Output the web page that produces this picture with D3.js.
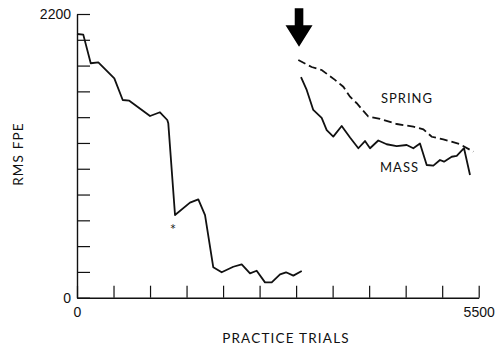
<!DOCTYPE html>
<html>
<head>
<meta charset="utf-8">
<script src="https://cdn.jsdelivr.net/npm/d3@7/dist/d3.min.js"></script>
<style>
  body { margin: 0; background: #fff; }
  svg { display: block; }
</style>
</head>
<body>
<div class="container"></div>
<script>
const WIDTH = 496
const HEIGHT = 349

// axis ticks and labels
const trialTicks = [0, 500, 1000, 1500, 2000, 2500, 3000, 3500, 4000, 4500, 5000, 5500]
const rmsTicks = [0, 200, 400, 600, 800, 1000, 1200, 1400, 1600, 1800, 2000, 2200]
const trialLabels = ['0', '5500']
const rmsLabels = ['0', '2200']

// first session (before the switch)
const baseTrials = [0, 86, 188, 292, 511, 626, 716, 1000, 1136, 1236, 1250, 1342, 1547, 1661, 1753, 1866, 1981, 2140, 2255, 2369, 2460, 2574, 2666, 2780, 2862, 2962, 3077]
const baseRms = [2045, 2040, 1818, 1825, 1701, 1533, 1528, 1409, 1438, 1378, 1352, 641, 737, 763, 641, 236, 197, 240, 259, 189, 209, 119, 119, 181, 197, 171, 207]

// spring (dashed)
const springTrials = [3030, 3213, 3350, 3532, 3646, 3738, 3830, 3988, 4149, 4377, 4605, 4742, 4857, 5015, 5244, 5426]
const springRms = [1843, 1789, 1766, 1689, 1636, 1559, 1508, 1405, 1386, 1347, 1326, 1306, 1248, 1228, 1190, 1132]

// mass (solid)
const massTrials = [3067, 3145, 3235, 3350, 3419, 3509, 3624, 3738, 3852, 3943, 4012, 4125, 4240, 4377, 4514, 4605, 4696, 4788, 4879, 4970, 5025, 5130, 5199, 5299, 5381]
const massRms = [1711, 1611, 1456, 1394, 1300, 1249, 1331, 1242, 1159, 1215, 1159, 1219, 1190, 1176, 1184, 1159, 1196, 1029, 1024, 1068, 1055, 1093, 1099, 1159, 952]

// annotations
const arrowPoint = [3040, 1946]
const asteriskPoint = [1342, 641]
const curveLabels = ['SPRING', 'MASS']
const curveLabelPoints = [[4162, 1508], [4149, 977]]

const x = d3.scaleLinear().domain([0, 5500]).range([77, 478.7])
const y = d3.scaleLinear().domain([0, 2200]).range([297.7, 14])

const svg = d3.select('.container').append('svg')
    .attr('width', WIDTH)
    .attr('height', HEIGHT)
    .attr('viewBox', `0 0 ${WIDTH} ${HEIGHT}`)
    .style('font-family', 'Lato, "DejaVu Sans", sans-serif')

svg.append('rect').attr('width', WIDTH).attr('height', HEIGHT).attr('fill', '#fff')

// axes, ticks pointing inward
const labelFor = (ticks, labels) => d => {
    const i = [ticks[0], ticks[ticks.length - 1]].indexOf(d)
    return i === -1 ? '' : labels[i]
}

const yAxis = svg.append('g')
    .attr('transform', `translate(${x(0)},0)`)
    .call(d3.axisLeft(y)
        .tickValues(rmsTicks)
        .tickSizeInner(-13)
        .tickSizeOuter(0)
        .tickPadding(6)
        .tickFormat(labelFor(rmsTicks, rmsLabels)))

const xAxis = svg.append('g')
    .attr('transform', `translate(0,${y(0)})`)
    .call(d3.axisBottom(x)
        .tickValues(trialTicks)
        .tickSizeInner(-12)
        .tickSizeOuter(0)
        .tickPadding(9)
        .tickFormat(labelFor(trialTicks, trialLabels)))

for (const g of [xAxis, yAxis]) {
    g.selectAll('path.domain').attr('stroke', '#111').attr('stroke-width', 1.4)
    g.selectAll('.tick line').attr('stroke', '#111').attr('stroke-width', 1.2)
    g.selectAll('.tick text').attr('fill', '#111').attr('font-size', 14)
}

// axis titles
svg.append('text')
    .attr('x', 286)
    .attr('y', 343)
    .attr('text-anchor', 'middle')
    .attr('font-size', 13.5)
    .attr('letter-spacing', 1.2)
    .attr('fill', '#111')
    .text('PRACTICE TRIALS')

svg.append('text')
    .attr('transform', 'translate(23,154) rotate(-90)')
    .attr('text-anchor', 'middle')
    .attr('font-size', 13.5)
    .attr('letter-spacing', 1.2)
    .attr('fill', '#111')
    .text('RMS FPE')

// curves
const line = d3.line()
    .x(d => x(d[0]))
    .y(d => y(d[1]))

const curve = (trials, values) => trials.map((t, i) => [t, values[i]])

svg.append('path')
    .datum(curve(baseTrials, baseRms))
    .attr('d', line)
    .attr('fill', 'none')
    .attr('stroke', '#111')
    .attr('stroke-width', 1.8)
    .attr('stroke-linejoin', 'round')

svg.append('path')
    .datum(curve(springTrials, springRms))
    .attr('d', line)
    .attr('fill', 'none')
    .attr('stroke', '#111')
    .attr('stroke-width', 1.8)
    .attr('stroke-dasharray', '8,4')

svg.append('path')
    .datum(curve(massTrials, massRms))
    .attr('d', line)
    .attr('fill', 'none')
    .attr('stroke', '#111')
    .attr('stroke-width', 1.8)
    .attr('stroke-linejoin', 'round')

// curve labels
svg.selectAll('text.curve-label')
    .data(curveLabels)
    .join('text')
    .attr('class', 'curve-label')
    .attr('x', (d, i) => x(curveLabelPoints[i][0]))
    .attr('y', (d, i) => y(curveLabelPoints[i][1]))
    .attr('font-size', 13)
    .attr('letter-spacing', 1)
    .attr('fill', '#111')
    .text(d => d)

// asterisk under the drop
svg.append('text')
    .attr('x', x(asteriskPoint[0]) - 2)
    .attr('y', y(asteriskPoint[1]) + 17)
    .attr('text-anchor', 'middle')
    .attr('font-family', '"DejaVu Sans", sans-serif')
    .attr('font-size', 10)
    .attr('fill', '#111')
    .text('*')

// big arrow marking the switch
const ax = x(arrowPoint[0]), ay = y(arrowPoint[1])
svg.append('path')
    .attr('d', `M${ax},${ay} L${ax - 13.5},${ay - 21.5} L${ax - 4.3},${ay - 21.5} L${ax - 4.3},${ay - 38.5}
        L${ax + 4.3},${ay - 38.5} L${ax + 4.3},${ay - 21.5} L${ax + 13.5},${ay - 21.5} Z`)
    .attr('fill', '#000')
</script>
</body>
</html>
